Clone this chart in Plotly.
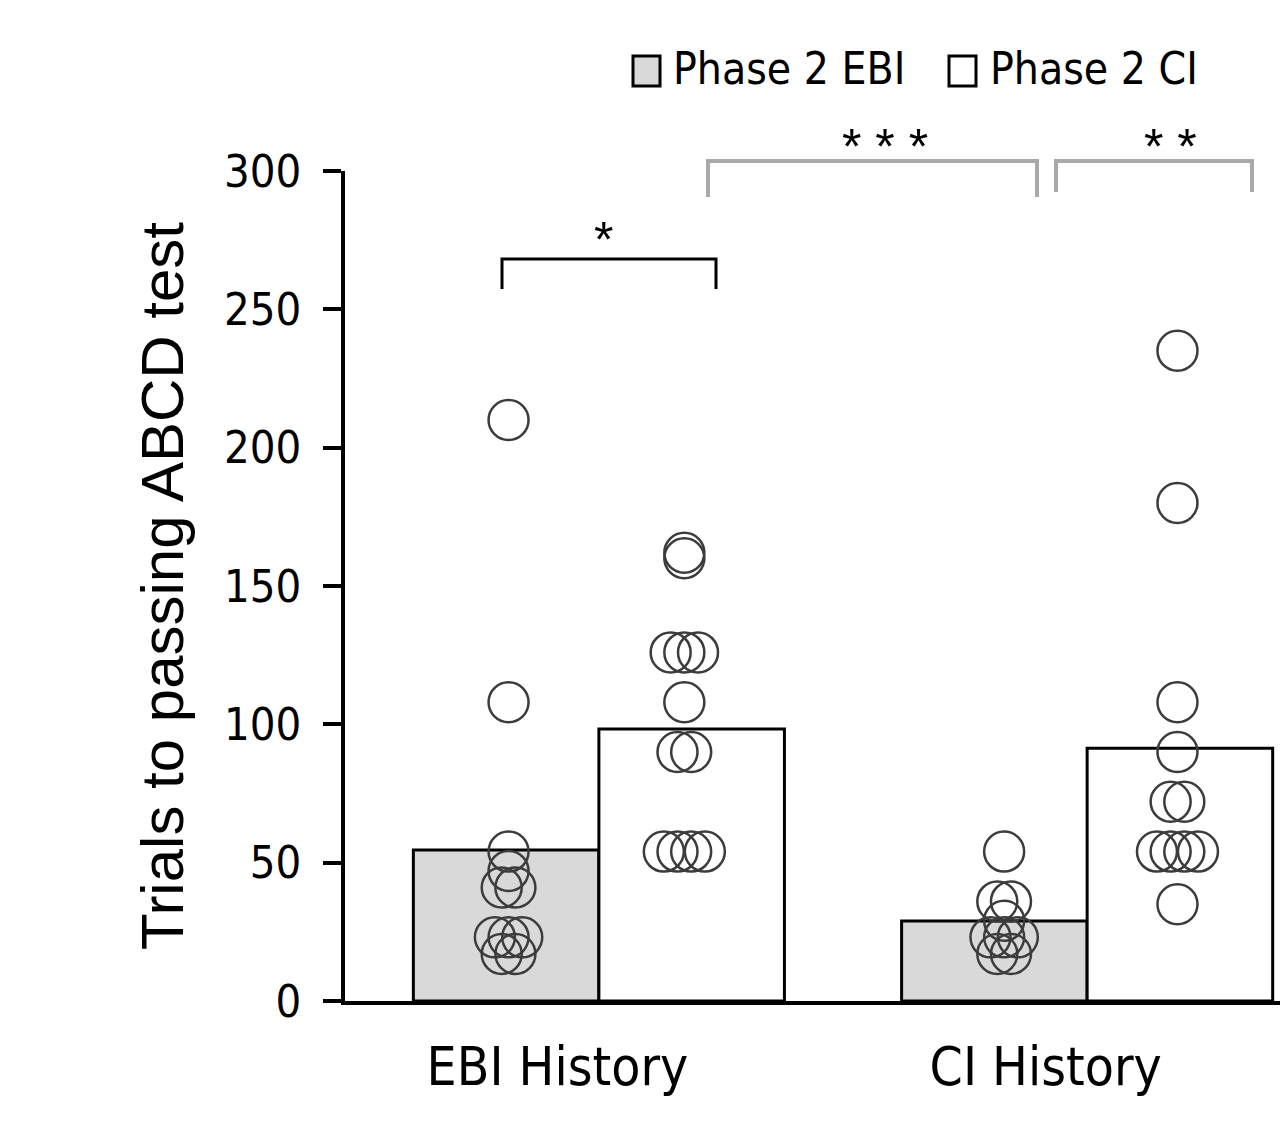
import plotly.graph_objects as go

# ---------------- data ----------------
categories = ["EBI History", "CI History"]
series_names = ["Phase 2 EBI", "Phase 2 CI"]

# bar heights (group means)
bar_phase2_ebi = [54.6, 28.9]
bar_phase2_ci = [98.3, 91.4]

# individual subjects
pts_ebi_hist_phase2_ebi = [210, 108, 54, 47, 41, 41, 23, 23, 23, 17, 17]
pts_ebi_hist_phase2_ci = [162, 160, 126, 126, 126, 108, 90, 90, 54, 54, 54, 54]
pts_ci_hist_phase2_ebi = [54, 36, 36, 29, 23, 23, 23, 17, 17]
pts_ci_hist_phase2_ci = [235, 180, 108, 90, 72, 72, 54, 54, 54, 54, 35]

# significance labels
sig_labels = ["*", "* * *", "* *"]

# ---------------- style ----------------
NARROW = "Liberation Sans Narrow, Arial Narrow, DejaVu Sans Condensed, Liberation Sans, sans-serif"
REG = "Liberation Sans, Arial, sans-serif"
GRAY = "#d9d9d9"
SIDE = 0.19
STEP = 0.028


def dodge(values, center, tol=1.0, step=STEP):
    """spread points with (nearly) equal values horizontally"""
    order = sorted(range(len(values)), key=lambda i: values[i])
    xs = [center] * len(values)
    clusters = []
    for i in order:
        if clusters and abs(values[i] - values[clusters[-1][0]]) <= tol:
            clusters[-1].append(i)
        else:
            clusters.append([i])
    for cl in clusters:
        n = len(cl)
        for k, i in enumerate(cl):
            xs[i] = center + (k - (n - 1) / 2) * step
    return xs


fig = go.Figure()
fig.add_trace(go.Bar(x=[0, 1], y=bar_phase2_ebi, name=series_names[0],
                     marker=dict(color=GRAY, line=dict(color="black", width=3))))
fig.add_trace(go.Bar(x=[0, 1], y=bar_phase2_ci, name=series_names[1],
                     marker=dict(color="white", line=dict(color="black", width=3))))

point_sets = [
    (pts_ebi_hist_phase2_ebi, 0 - SIDE + 0.005),
    (pts_ebi_hist_phase2_ci, 0 + SIDE - 0.015),
    (pts_ci_hist_phase2_ebi, 1 - SIDE + 0.02),
    (pts_ci_hist_phase2_ci, 1 + SIDE - 0.005),
]
for vals, c in point_sets:
    fig.add_trace(go.Scatter(
        x=dodge(vals, c), y=vals, mode="markers", showlegend=False,
        marker=dict(symbol="circle", size=40, color="rgba(0,0,0,0)",
                    line=dict(color="#3c3c3c", width=2.5)),
        cliponaxis=False))

L, T, B = 345, 171, 130
W, H = 1280, 1131
PW, PH = W - L, H - T - B


def px(x):
    return (x - L) / PW


def py(y):
    return (H - B - y) / PH


shapes = []
# legend boxes
shapes.append(dict(type="rect", xref="paper", yref="paper", x0=px(633), x1=px(660), y0=py(86), y1=py(56),
                   fillcolor=GRAY, line=dict(color="black", width=3)))
shapes.append(dict(type="rect", xref="paper", yref="paper", x0=px(949), x1=px(976), y0=py(86), y1=py(56),
                   fillcolor="white", line=dict(color="black", width=3)))


def bracket(x0, x1, ytop, ybot_l, ybot_r, color, width):
    return dict(type="path", xref="paper", yref="paper",
                path=f"M {px(x0)} {py(ybot_l)} L {px(x0)} {py(ytop)} L {px(x1)} {py(ytop)} L {px(x1)} {py(ybot_r)}",
                line=dict(color=color, width=width))


shapes.append(bracket(502, 716, 259, 289, 289, "black", 3))
shapes.append(bracket(708, 1037, 161, 197, 197, "#a9a9a9", 4))
shapes.append(bracket(1056, 1252, 161, 192, 192, "#a9a9a9", 4))

annotations = [
    dict(xref="paper", yref="paper", x=px(671), y=py(68), text=series_names[0], showarrow=False,
         xanchor="left", yanchor="middle", font=dict(family=NARROW, size=44, color="black")),
    dict(xref="paper", yref="paper", x=px(988), y=py(68), text=series_names[1], showarrow=False,
         xanchor="left", yanchor="middle", font=dict(family=NARROW, size=44, color="black")),
    dict(xref="paper", yref="paper", x=px(603), y=py(240), text=sig_labels[0], showarrow=False,
         xanchor="center", yanchor="middle", font=dict(family=REG, size=50, color="black")),
    dict(xref="paper", yref="paper", x=px(885), y=py(147), text=sig_labels[1], showarrow=False,
         xanchor="center", yanchor="middle", font=dict(family=REG, size=50, color="black")),
    dict(xref="paper", yref="paper", x=px(1170), y=py(147), text=sig_labels[2], showarrow=False,
         xanchor="center", yanchor="middle", font=dict(family=REG, size=50, color="black")),
]

fig.update_layout(
    width=W, height=H,
    margin=dict(l=L, r=0, t=T, b=B, autoexpand=False),
    paper_bgcolor="white", plot_bgcolor="white",
    barmode="group", bargap=0.24, bargroupgap=0,
    showlegend=False,
    shapes=shapes, annotations=annotations,
    xaxis=dict(range=[-0.52, 1.395], showgrid=False, zeroline=False,
               showline=True, linecolor="black", linewidth=4,
               tickmode="array", tickvals=[-0.085, 0.915], ticktext=categories,
               ticks="", ticklabelstandoff=16,
               tickfont=dict(family=NARROW, size=53, color="black")),
    yaxis=dict(range=[0, 300], showgrid=False, zeroline=False,
               showline=True, linecolor="black", linewidth=3.5,
               tickmode="array", tickvals=[0, 50, 100, 150, 200, 250, 300],
               ticks="outside", ticklen=18, tickwidth=3.5, tickcolor="black",
               ticklabelstandoff=13,
               tickfont=dict(family=NARROW, size=45, color="black")),
)
fig.update_yaxes(title=dict(text="Trials to passing ABCD test", standoff=22,
                            font=dict(family=REG, size=60, color="black")))

fig.write_html("out.html")
